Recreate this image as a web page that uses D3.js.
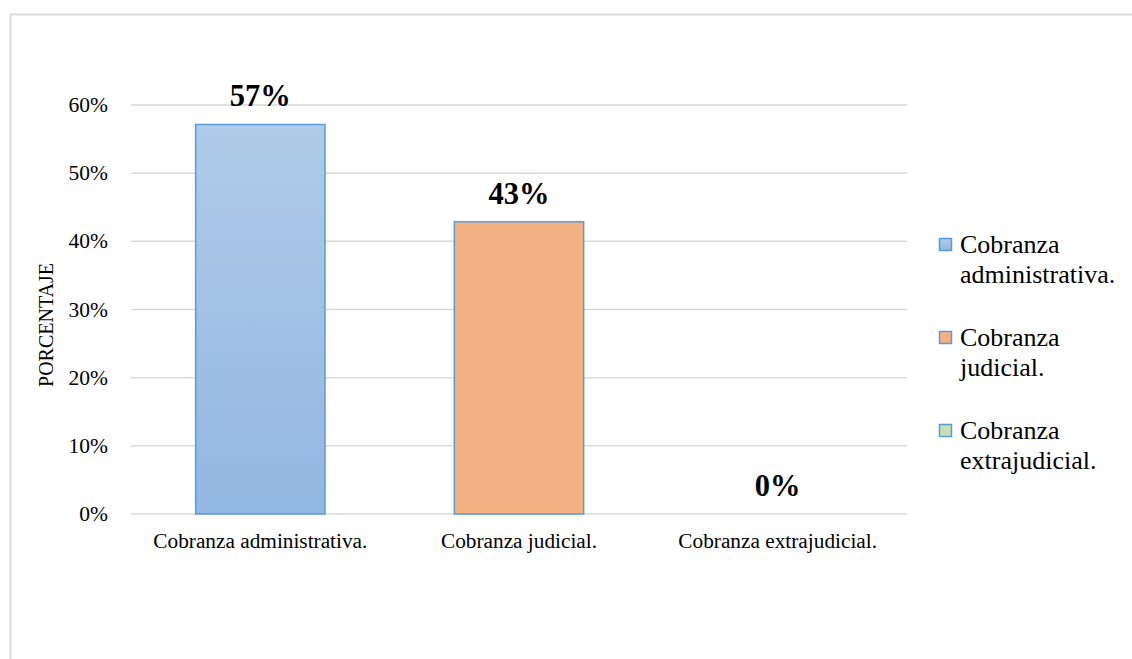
<!DOCTYPE html>
<html>
<head>
<meta charset="utf-8">
<script src="https://cdnjs.cloudflare.com/ajax/libs/d3/7.8.5/d3.min.js"></script>
<style>
  html, body { margin: 0; padding: 0; background: #fff; }
</style>
</head>
<body>
<div id="chart"></div>
<script>
// chart data
var categories = ["Cobranza administrativa.", "Cobranza judicial.", "Cobranza extrajudicial."];
var values = [0.5714, 0.4286, 0];
var valueLabels = ["57%", "43%", "0%"];
var legendLines = [["Cobranza", "administrativa."], ["Cobranza", "judicial."], ["Cobranza", "extrajudicial."]];
var fills = ["url(#blueGrad)", "#f4b183", "#c5e0b4"];
var yTicks = [0, 0.1, 0.2, 0.3, 0.4, 0.5, 0.6];

var W = 1132, H = 659;
var margin = { top: 105, right: 225, bottom: 145, left: 131 };
var plotW = W - margin.left - margin.right;
var plotH = H - margin.top - margin.bottom;
var serif = "Liberation Serif";

var svg = d3.select("#chart").append("svg")
    .attr("width", W)
    .attr("height", H);

var defs = svg.append("defs");
var grad = defs.append("linearGradient")
    .attr("id", "blueGrad")
    .attr("x1", 0).attr("y1", 0).attr("x2", 0).attr("y2", 1);
grad.append("stop").attr("offset", "0%").attr("stop-color", "#b0cbe9");
grad.append("stop").attr("offset", "100%").attr("stop-color", "#92b7e2");

// outer frame
svg.append("rect")
    .attr("x", 10.5).attr("y", 14.5)
    .attr("width", W + 20).attr("height", H + 20)
    .attr("fill", "none")
    .attr("stroke", "#d9d9d9")
    .attr("stroke-width", 2);

var g = svg.append("g")
    .attr("transform", "translate(" + margin.left + "," + margin.top + ")");

var x = d3.scaleBand()
    .domain(categories)
    .range([0, plotW])
    .paddingInner(0.5)
    .paddingOuter(0.25);

var y = d3.scaleLinear()
    .domain([0, 0.6])
    .range([plotH, 0]);

function addText(parent, tx, ty, str, size, anchor, weight, rotate) {
    return parent.append("text")
        .attr("transform", "translate(" + tx + "," + ty + ")" + (rotate ? " rotate(-90)" : ""))
        .attr("text-anchor", anchor)
        .attr("font-family", serif)
        .attr("font-size", size)
        .attr("font-weight", weight || "normal")
        .attr("fill", "#000")
        .text(str);
}

// gridlines
g.selectAll("line.grid")
    .data(yTicks)
    .enter().append("line")
    .attr("class", "grid")
    .attr("x1", 0).attr("x2", plotW)
    .attr("y1", function(d) { return y(d); })
    .attr("y2", function(d) { return y(d); })
    .attr("stroke", "#d9d9d9")
    .attr("stroke-width", 1.5);

// y tick labels
yTicks.forEach(function(d) {
    addText(g, -23, y(d) + 7, d3.format(".0%")(d), 21.5, "end");
});

// bars
g.selectAll("rect.bar")
    .data(values)
    .enter().append("rect")
    .attr("class", "bar")
    .attr("x", function(d, i) { return x(categories[i]); })
    .attr("y", function(d) { return y(d); })
    .attr("width", x.bandwidth())
    .attr("height", function(d) { return plotH - y(d); })
    .attr("fill", function(d, i) { return fills[i]; })
    .attr("stroke", "#5b9bd5")
    .attr("stroke-width", function(d) { return d > 0 ? 1.5 : 0; });

// value labels
values.forEach(function(d, i) {
    addText(g, x(categories[i]) + x.bandwidth() / 2, y(d) - 18, valueLabels[i], 30.5, "middle", "bold");
});

// category labels
categories.forEach(function(c) {
    addText(g, x(c) + x.bandwidth() / 2, plotH + 34, c, 21.3, "middle");
});

// y axis title
addText(svg, 53, 325, "PORCENTAJE", 20, "middle", null, true);

// legend
var legend = svg.append("g").attr("transform", "translate(939,238)");
legendLines.forEach(function(lines, i) {
    var item = legend.append("g").attr("transform", "translate(0," + (i * 93) + ")");
    item.append("rect")
        .attr("x", 0.5).attr("y", 0.5)
        .attr("width", 12).attr("height", 12)
        .attr("fill", fills[i])
        .attr("stroke", "#5b9bd5")
        .attr("stroke-width", 1.5);
    lines.forEach(function(line, j) {
        addText(item, 21, 15 + j * 30, line, 26, "start");
    });
});
</script>
</body>
</html>
